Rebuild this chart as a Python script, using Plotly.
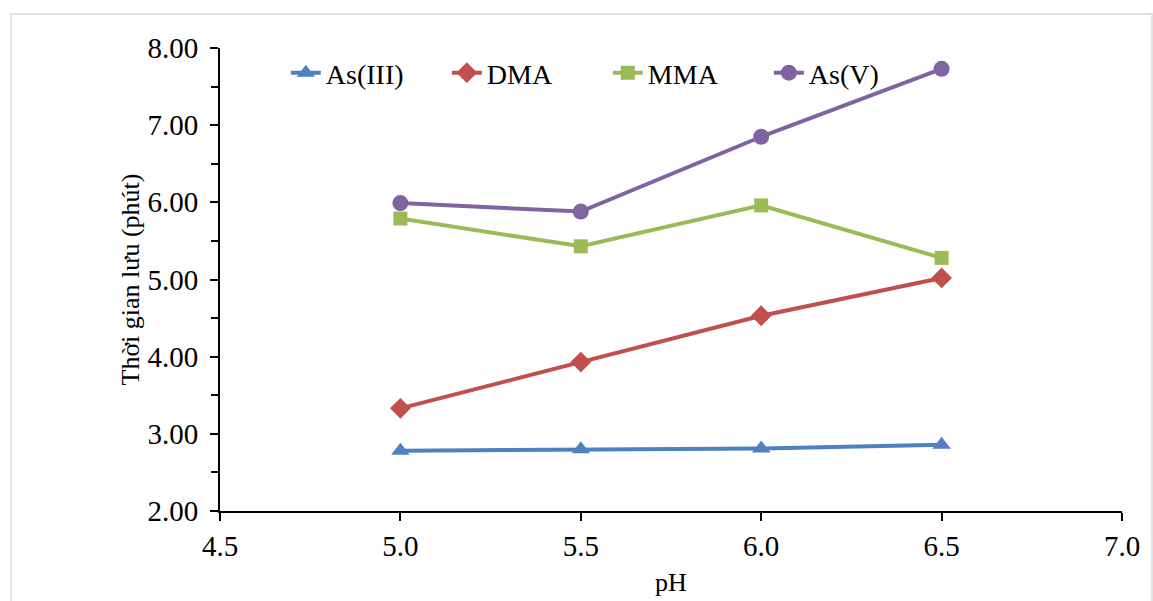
import plotly.graph_objects as go

ph = [5.0, 5.5, 6.0, 6.5]
as3 = [2.78, 2.80, 2.81, 2.86]
dma = [3.33, 3.93, 4.53, 5.02]
mma = [5.79, 5.43, 5.96, 5.28]
as5 = [5.99, 5.88, 6.85, 7.73]

series = [
    ("As(III)", as3, "#4F81BD", "triangle-up", 16),
    ("DMA", dma, "#C0504D", "diamond", 16),
    ("MMA", mma, "#9BBB59", "square", 14),
    ("As(V)", as5, "#8064A2", "circle", 16),
]

font_family = "Liberation Serif"
tickfont = dict(family=font_family, size=29, color="black")

fig = go.Figure()
for name, ys, color, sym, size in series:
    fig.add_trace(go.Scatter(
        x=ph, y=ys, name=name, mode="lines+markers",
        line=dict(color=color, width=4),
        marker=dict(symbol=sym, size=size, color=color),
        cliponaxis=False,
    ))

fig.update_layout(
    width=1153, height=601,
    margin=dict(l=220, r=31, t=48, b=90),
    paper_bgcolor="white", plot_bgcolor="white",
    font=dict(family=font_family, size=28, color="black"),
    showlegend=True,
    legend=dict(
        orientation="h", x=0.073, y=1.0, xanchor="left", yanchor="top",
        font=dict(family=font_family, size=28, color="black"),
        entrywidth=116, entrywidthmode="pixels",
        bgcolor="rgba(0,0,0,0)",
    ),
    xaxis=dict(
        range=[4.5, 7.0], dtick=0.5, tick0=4.5, tickformat=".1f",
        tickfont=tickfont,
        showgrid=False, zeroline=False, automargin=False,
        showline=True, linecolor="black", linewidth=2,
        ticks="outside", ticklen=8, tickwidth=2, tickcolor="black",
        ticklabelstandoff=0,
        title=dict(text="pH", font=dict(family=font_family, size=26), standoff=12),
    ),
    yaxis=dict(
        range=[2.0, 8.0], dtick=1, tick0=2, tickformat=".2f",
        tickfont=tickfont,
        showgrid=False, zeroline=False, automargin=False,
        showline=True, linecolor="black", linewidth=2,
        ticks="outside", ticklen=8, tickwidth=2, tickcolor="black",
        ticklabelstandoff=6,
        minor=dict(dtick=0.5, ticks="outside", ticklen=7, tickwidth=2, tickcolor="black", showgrid=False),
        title=dict(text="Thời gian lưu (phút)", font=dict(family=font_family, size=26), standoff=0),
    ),
    shapes=[dict(
        type="rect", xref="paper", yref="paper",
        x0=(11 - 220) / 902, x1=(1152 - 220) / 902,
        y0=-0.3, y1=(511 - 14) / 463,
        line=dict(color="#d9d9d9", width=1.5), fillcolor="rgba(0,0,0,0)",
        layer="below",
    )],
)

fig.write_html("out.html")
